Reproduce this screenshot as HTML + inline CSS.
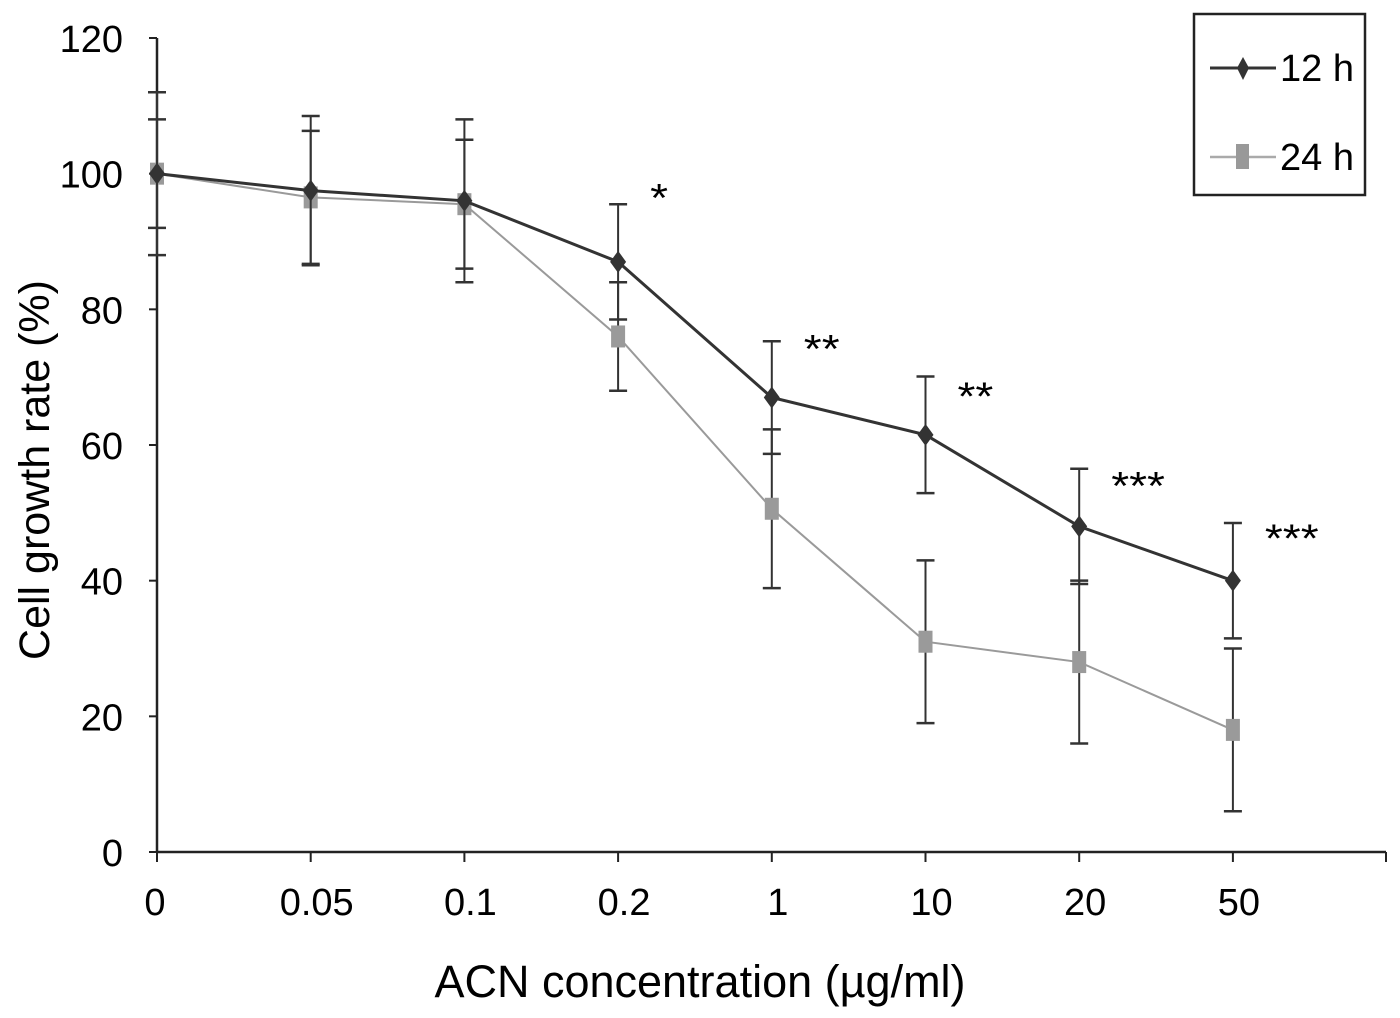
<!DOCTYPE html>
<html><head><meta charset="utf-8"><style>
body{margin:0;background:#fff}
svg{display:block;font-family:"Liberation Sans",Arial,sans-serif}
</style></head><body>
<svg id="chart" width="1400" height="1018" viewBox="0 0 1400 1018" xmlns="http://www.w3.org/2000/svg">
<g id="axes"></g>
<g id="marks"></g>
<text transform="translate(49,470) rotate(-90)" text-anchor="middle" font-size="43">Cell growth rate (%)</text>
<text x="700" y="997" text-anchor="middle" font-size="45">ACN concentration (µg/ml)</text>
<g>
<rect x="1194" y="14" width="171" height="181" fill="#fff" stroke="#222" stroke-width="2.5"/>
<g>
<line x1="1210" y1="68" x2="1276" y2="68" stroke="#333" stroke-width="3"/>
<path d="M1243,57 L1249,68 L1243,80 L1237,68 Z" fill="#333"/>
<text x="1280" y="81" font-size="38">12 h</text></g>
<g>
<line x1="1210" y1="157" x2="1276" y2="157" stroke="#aaa" stroke-width="2.5"/>
<rect x="1236" y="144" width="13" height="25" fill="#999"/>
<text x="1280" y="170" font-size="38">24 h</text></g>
</g>
</svg>
<script>
const categories=["0","0.05","0.1","0.2","1","10","20","50"];
const yTicks=[0,20,40,60,80,100,120];
const values12h=[100,97.5,96,87,67,61.5,48,40];
const err12h=[12,11,12,8.5,8.3,8.6,8.5,8.5];
const values24h=[100,96.5,95.5,76,50.6,31,28,18];
const err24h=[8,9.8,9.5,8,11.7,12,12,12];
const stars=["","","","*","**","**","***","***"];
const starY=[0,0,0,99.7,77.5,70.5,57.3,49.5];

const NS="http://www.w3.org/2000/svg";
const x0=157,dx=153.7,yBase=852,yTop=38;
const X=i=>x0+i*dx;
const Y=v=>yBase-(v/120)*(yBase-yTop);
function mk(tag,attrs,parent){const e=document.createElementNS(NS,tag);for(const k in attrs)e.setAttribute(k,attrs[k]);parent.appendChild(e);return e;}
const axes=document.getElementById('axes'),marks=document.getElementById('marks');
let a=mk('line',{x1:x0,y1:yTop,x2:x0,y2:yBase,stroke:'#222','stroke-width':2.5},axes);


a=mk('line',{x1:x0,y1:yBase,x2:1386,y2:yBase,stroke:'#222','stroke-width':2.5},axes);


yTicks.forEach(t=>{
  mk('line',{x1:x0-8,y1:Y(t),x2:x0,y2:Y(t),stroke:'#222','stroke-width':2},axes);
  const tx=mk('text',{x:123,y:Y(t)+14,'text-anchor':'end','font-size':38},axes);
  tx.textContent=t;
  
  
});
categories.forEach((c,i)=>{
  mk('line',{x1:X(i),y1:yBase,x2:X(i),y2:yBase+10,stroke:'#222','stroke-width':2},axes);
  const tx=mk('text',{x:X(i)+(i==0?-2:6),y:915,'text-anchor':'middle','font-size':38},axes);
  tx.textContent=c;
  
  
});
mk('line',{x1:1386,y1:yBase,x2:1386,y2:yBase+10,stroke:'#222','stroke-width':2},axes);
function series(vals,errs,color,lw,shape,name){
  const g=mk('g',{},marks);
  
  
  vals.forEach((v,i)=>{
    const e=errs[i];
    mk('line',{x1:X(i),y1:Y(v+e),x2:X(i),y2:Y(v-e),stroke:'#333','stroke-width':2},g);
    mk('line',{x1:X(i)-9,y1:Y(v+e),x2:X(i)+9,y2:Y(v+e),stroke:'#333','stroke-width':2.5},g);
    mk('line',{x1:X(i)-9,y1:Y(v-e),x2:X(i)+9,y2:Y(v-e),stroke:'#333','stroke-width':2.5},g);
  });
  mk('polyline',{points:vals.map((v,i)=>X(i)+','+Y(v)).join(' '),fill:'none',stroke:color,'stroke-width':lw},g);
  vals.forEach((v,i)=>{
    let m;
    if(shape==='d') m=mk('path',{d:`M${X(i)},${Y(v)-11} L${X(i)+8},${Y(v)} L${X(i)},${Y(v)+11} L${X(i)-8},${Y(v)} Z`,fill:color},g);
    else m=mk('rect',{x:X(i)-7,y:Y(v)-11,width:14,height:22,fill:color},g);
    
    
  });
}
series(values24h,err24h,'#9a9a9a',2,'s','series-24h');
series(values12h,err12h,'#333',3,'d','series-12h');
stars.forEach((s,i)=>{if(!s)return;
  const t=mk('text',{transform:`translate(${X(i)+32},${Y(starY[i])+36}) scale(1.15,1)`,'font-size':40,'text-anchor':'start'},marks);
  t.textContent=s;
  
  
});
</script>
</body></html>
